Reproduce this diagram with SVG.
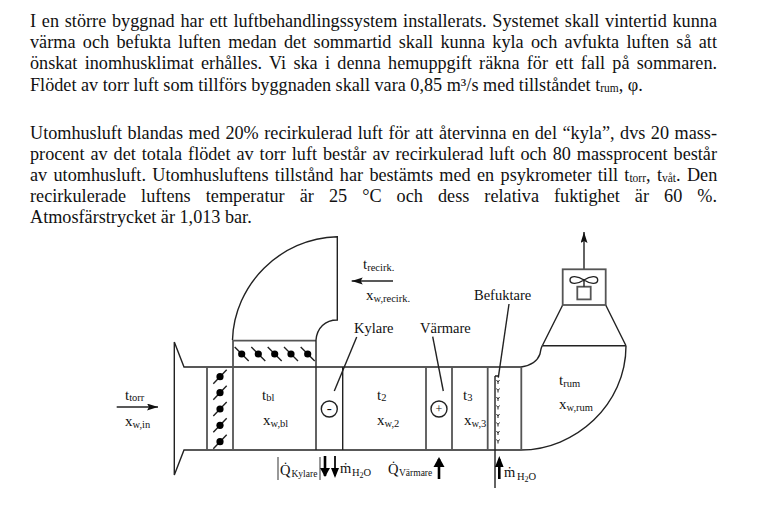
<svg xmlns="http://www.w3.org/2000/svg" width="781" height="505" viewBox="0 0 781 505">
<defs>
<marker id="ah" markerUnits="userSpaceOnUse" markerWidth="12" markerHeight="8" refX="11" refY="3.5" orient="auto"><path d="M0,0 L11,3.5 L0,7 L2,3.5 Z" fill="#111"/></marker>
<g id="dmp"><circle r="3.6" fill="#000"/></g>
</defs>
<style>
text{font-family:"Liberation Serif","Times New Roman",serif;fill:#111}
.p{font-size:18.2px}
.ps{font-size:11.5px}
.l{font-size:14.5px}
.v{font-size:15px}
.s{font-size:10.5px}
.ln{fill:none;stroke:#222;stroke-width:1.4}
.gr{fill:none;stroke:#555;stroke-width:1.8}
.th{fill:none;stroke:#000;stroke-width:2.6}
.bar{fill:none;stroke:#555;stroke-width:1.2}
</style>
<rect width="781" height="505" fill="#fff"/>
<g id="body-text">
<text class="p" x="30" y="26.5" word-spacing="1.2" textLength="687" lengthAdjust="spacing">I en större byggnad har ett luftbehandlingssystem installerats. Systemet skall vintertid kunna</text>
<text class="p" x="30" y="48" word-spacing="2.76" textLength="687" lengthAdjust="spacing">värma och befukta luften medan det sommartid skall kunna kyla och avfukta luften så att</text>
<text class="p" x="30" y="69" word-spacing="2.8" textLength="687" lengthAdjust="spacing">önskat inomhusklimat erhålles. Vi ska i denna hemuppgift räkna för ett fall på sommaren.</text>
<text class="p" x="30" y="90.5">Flödet av torr luft som tillförs byggnaden skall vara 0,85 m³/s med tillståndet t<tspan class="ps" dy="1">rum</tspan><tspan dy="-1">, φ.</tspan></text>
<text class="p" x="30" y="139" word-spacing="1" textLength="687" lengthAdjust="spacing">Utomhusluft blandas med 20% recirkulerad luft för att återvinna en del “kyla”, dvs 20 mass-</text>
<text class="p" x="30" y="160" word-spacing="1.44" textLength="687" lengthAdjust="spacing">procent av det totala flödet av torr luft består av recirkulerad luft och 80 massprocent består</text>
<text class="p" x="30" y="181" word-spacing="1.8">av utomhusluft. Utomhusluftens tillstånd har bestämts med en psykrometer till t<tspan class="ps" dy="1">torr</tspan><tspan dy="-1">, t</tspan><tspan class="ps" dy="1">våt</tspan><tspan dy="-1">. Den</tspan></text>
<text class="p" x="30" y="202" word-spacing="10.5" textLength="687" lengthAdjust="spacing">recirkulerade luftens temperatur är 25 °C och dess relativa fuktighet är 60 %.</text>
<text class="p" x="30" y="223">Atmosfärstrycket är 1,013 bar.</text>
</g>
<g id="connectors">
<line class="ln" x1="116.7" y1="407" x2="158" y2="407" marker-end="url(#ah)"/>
<line class="ln" x1="393" y1="281" x2="351.7" y2="281" marker-end="url(#ah)"/>
<line class="ln" x1="584" y1="269" x2="584" y2="232" marker-end="url(#ah)"/>
<line class="ln" x1="356.7" y1="337" x2="334.3" y2="391"/>
<line class="ln" x1="432.7" y1="336.7" x2="443.3" y2="391"/>
<line class="ln" x1="509" y1="304" x2="498.3" y2="377.7"/>
</g>
<g id="duct">
<path class="ln" d="M174.3,342 L184,367 H233 M316,367 H521 Q536,365 540,354 Q541,348 542.3,345.7 M174.3,342 V475 L184,450 H521 C575,450 626,405 626,345.7"/>
<path class="ln" d="M232.5,340 C234,285 280,238 337.3,236.7 V320 C325,320 317,328 316,340"/>
</g>
<g id="damper-inlet">
<path class="gr" d="M207,367 V450 M233,340 V450"/>
<path class="ln" d="M213.3,383.7 L226.7,369.7 M213.3,399.7 L226.7,385.7 M213.3,416 L226.7,402 M213.3,432.3 L226.7,418.3 M213.3,448.7 L226.7,434.7"/>
<use href="#dmp" x="220" y="376.7"/><use href="#dmp" x="220" y="392.7"/><use href="#dmp" x="220" y="409"/><use href="#dmp" x="220" y="425.3"/><use href="#dmp" x="220" y="441.7"/>
</g>
<g id="damper-recirc">
<path class="gr" d="M233,340.7 H316 M233,367 H316"/>
<path class="ln" d="M234.7,347 L248.7,361 M251.3,347 L265.3,361 M267.7,347 L281.7,361 M284,347 L298,361 M300.7,347 L314.7,361"/>
<use href="#dmp" x="241.7" y="354"/><use href="#dmp" x="258.3" y="354"/><use href="#dmp" x="274.7" y="354"/><use href="#dmp" x="291" y="354"/><use href="#dmp" x="307.7" y="354"/>
</g>
<g id="cooler">
<path class="ln" d="M316,340 V450 M342.7,367 V450"/>
<circle class="ln" cx="329.3" cy="409" r="8"/>
<text class="v" x="329.3" y="413" text-anchor="middle">-</text>
<text class="l" x="354" y="333">Kylare</text>
</g>
<g id="heater">
<path class="gr" d="M426,367 V450 M452,367 V450"/>
<circle class="ln" cx="439" cy="409" r="8"/>
<text class="s" x="439" y="412.5" text-anchor="middle" style="font-size:12px">+</text>
<text class="l" x="420" y="333">Värmare</text>
</g>
<g id="humidifier">
<path class="gr" d="M487.7,367 V450 M521.3,367 V450"/>
<path class="ln" d="M495,376 V488 M495,376 H499" />
<path class="ln" style="stroke-width:1" d="M496.500,380 l1.500,2 l1.500,-2 M498,382 v2 M496.500,388.500 l1.500,2 l1.500,-2 M498,390.500 v2 M496.500,397 l1.500,2 l1.500,-2 M498,399 v2 M496.500,405.500 l1.500,2 l1.500,-2 M498,407.500 v2 M496.500,414 l1.500,2 l1.500,-2 M498,416 v2 M496.500,422.500 l1.500,2 l1.500,-2 M498,424.500 v2 M496.500,431 l1.500,2 l1.500,-2 M498,433 v2 M496.500,439.500 l1.500,2 l1.500,-2 M498,441.500 v2"/>
<text class="l" x="474" y="300">Befuktare</text>
</g>
<g id="fan">
<path class="ln" d="M542.3,345.700 H626 M542.300,345.700 L562.700,305 M626,345.700 L605.700,305"/>
<rect class="gr" x="562.700" y="269.300" width="43" height="35.700"/>
<rect class="gr" x="577.300" y="286.700" width="13.400" height="12.700"/>
<path class="ln" d="M584,280 C578,276 570,275 570,280 C570,285 578,284 584,280 C590,276 597.700,275 597.700,280 C597.700,285 590,284 584,280 V286.700"/>
</g>
<g id="labels">
<text class="v" x="125" y="399.500">t<tspan class="s" dy="1.500">torr</tspan></text>
<text class="v" x="125" y="426">x<tspan class="s" dy="1.500">w,in</tspan></text>
<text class="v" x="363" y="269">t<tspan class="s" dy="1.500">recirk.</tspan></text>
<text class="v" x="366" y="300">x<tspan class="s" dy="1.500">w,recirk.</tspan></text>
<text class="v" x="262" y="399.500">t<tspan class="s" dy="1.500">bl</tspan></text>
<text class="v" x="263" y="425">x<tspan class="s" dy="1.500">w,bl</tspan></text>
<text class="v" x="377" y="399.500">t<tspan class="s" dy="1.500">2</tspan></text>
<text class="v" x="377" y="425">x<tspan class="s" dy="1.500">w,2</tspan></text>
<text class="v" x="463" y="399.500">t<tspan class="s" dy="1.500">3</tspan></text>
<text class="v" x="464" y="425">x<tspan class="s" dy="1.500">w,3</tspan></text>
<text class="v" x="559" y="385">t<tspan class="s" dy="1.500">rum</tspan></text>
<text class="v" x="559" y="409">x<tspan class="s" dy="1.500">w,rum</tspan></text>
</g>
<g id="bottom-labels">
<path class="bar" d="M278,457 V480 M320,457 V480"/>
<text class="l" x="280" y="475">Q̇<tspan class="s" style="font-size:9.500px" dy="1.500" x="291.500">Kylare</tspan></text>
<line class="th" x1="325" y1="456" x2="325" y2="476"/>
<path d="M320,468 L325,477 L330,468 Z" fill="#000"/>
<line class="ln" x1="335" y1="456" x2="335" y2="476" style="stroke-width:2"/>
<path d="M331,468 L335,478 L339,468 Z" fill="#000"/>
<text class="l" x="340" y="473">ṁ<tspan class="s" dy="3" x="352">H</tspan><tspan class="s" style="font-size:8px" dy="2">2</tspan><tspan class="s" dy="-2">O</tspan></text>
<text class="l" x="388" y="474">Q̇<tspan class="s" style="font-size:9.500px" dy="1.500" x="399">Värmare</tspan></text>
<line class="th" x1="439" y1="459" x2="439" y2="479"/>
<path d="M433.500,467 L439,457 L444.500,467 Z" fill="#000"/>
<line class="th" x1="499.300" y1="459" x2="499.300" y2="479"/>
<path d="M495,467 L499.300,456 L503.600,467 Z" fill="#000"/>
<text class="l" x="504" y="477">ṁ<tspan class="s" dy="3" x="517">H</tspan><tspan class="s" style="font-size:8px" dy="2">2</tspan><tspan class="s" dy="-2">O</tspan></text>
</g>
</svg>
